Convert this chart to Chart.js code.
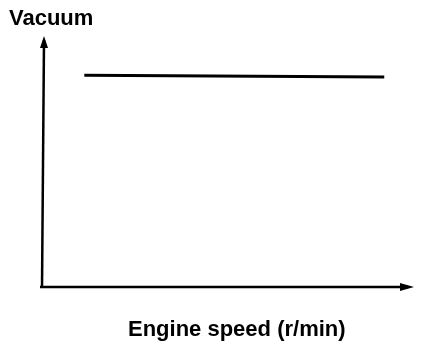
<!DOCTYPE html>
<html>
<head>
<meta charset="utf-8">
<script src="https://cdn.jsdelivr.net/npm/chart.js@4"></script>
<style>
  html, body { margin: 0; padding: 0; background: #fff; }
  #wrap { width: 432px; height: 346px; }
</style>
</head>
<body>
<div id="wrap"><canvas id="chart" width="432" height="346"></canvas></div>
<script>
// Vacuum vs engine speed - flat line schematic

const engineSpeed = [1.15, 9.3];
const vacuum = [85, 84.3];
const yTitle = 'Vacuum';
const xTitle = 'Engine speed (r/min)';

// axis lines with arrows + the two labels
const axisDecor = {
    id: 'axisDecor',
    afterDraw(chart) {
        const { ctx, chartArea } = chart;
        const l = chartArea.left, b = chartArea.bottom;
        ctx.save();
        ctx.strokeStyle = '#000';
        ctx.fillStyle = '#000';
        ctx.lineWidth = 2.5;

        // y axis + arrow
        ctx.beginPath();
        ctx.moveTo(l, b + 1);
        ctx.lineTo(l + 2, 40);
        ctx.stroke();
        ctx.beginPath();
        ctx.moveTo(l + 2, 36);
        ctx.lineTo(l - 2, 48);
        ctx.lineTo(l + 6, 48);
        ctx.closePath();
        ctx.fill();

        // x axis + arrow
        ctx.beginPath();
        ctx.moveTo(l - 2, b);
        ctx.lineTo(408, b);
        ctx.stroke();
        ctx.beginPath();
        ctx.moveTo(414, b);
        ctx.lineTo(400, b - 4);
        ctx.lineTo(400, b + 4);
        ctx.closePath();
        ctx.fill();

        ctx.font = 'bold 22px "Liberation Sans", Arial, sans-serif';
        ctx.textBaseline = 'alphabetic';
        ctx.textAlign = 'left';
        ctx.fillText(yTitle, 9, 25);
        ctx.fillText(xTitle, 128, 336);
        ctx.restore();
    }
};

new Chart(document.getElementById('chart').getContext('2d'), {
    type: 'line',
    data: {
        datasets: [{
            data: engineSpeed.map((x, i) => ({ x: x, y: vacuum[i] })),
            borderColor: '#000',
            borderWidth: 3,
            pointRadius: 0,
            tension: 0
        }]
    },
    options: {
        responsive: false,
        animation: false,
        layout: { padding: { left: 42, top: 38, right: 22, bottom: 59 } },
        plugins: { legend: { display: false }, tooltip: { enabled: false } },
        scales: {
            x: {
                type: 'linear', min: 0, max: 10,
                ticks: { display: false },
                grid: { display: false, drawTicks: false },
                border: { display: false }
            },
            y: {
                min: 0, max: 100,
                ticks: { display: false },
                grid: { display: false, drawTicks: false },
                border: { display: false }
            }
        }
    },
    plugins: [axisDecor]
});
</script>
</body>
</html>
